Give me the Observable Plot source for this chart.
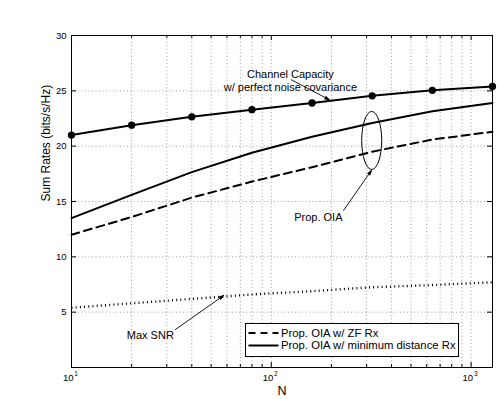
<!DOCTYPE html>
<html><head><meta charset="utf-8">
<script src="https://cdn.jsdelivr.net/npm/d3@7"></script>
<script src="https://cdn.jsdelivr.net/npm/@observablehq/plot@0.6"></script>
<style>
body{margin:0;background:#fff}
svg{font-family:"Liberation Sans",Arial,Helvetica,sans-serif}
</style>
</head><body><div id="chart"></div>
<script>
// ---- data ----
const N        = [10, 20, 40, 80, 160, 320, 640, 1280];
const capacity = [21.0, 21.9, 22.65, 23.3, 23.9, 24.55, 25.05, 25.4];
const minDist  = [13.5, 15.6, 17.65, 19.4, 20.85, 22.1, 23.15, 23.9];
const zfRx     = [12.0, 13.6, 15.35, 16.8, 18.1, 19.5, 20.6, 21.3];
const maxSnr   = [5.4, 5.8, 6.2, 6.6, 6.9, 7.25, 7.45, 7.7];
const yTicks   = [5, 10, 15, 20, 25, 30];
const xMajor   = [10, 100, 1000];
const xMinor   = [20, 30, 40, 50, 60, 70, 80, 90, 200, 300, 400, 500, 600, 700, 800, 900];
const xExp     = ["1", "2", "3"];
const legendLabels = ["Prop. OIA w/ ZF Rx", "Prop. OIA w/ minimum distance Rx"];
const capLabel = ["Channel Capacity", "w/ perfect noise covariance"];
const oiaLabel = "Prop. OIA";
const snrLabel = "Max SNR";

const series = (vals, name) => vals.map((v, i) => ({N: N[i], v, name}));
const capRows = series(capacity, "cap");
const minRows = series(minDist, "min");
const zfRows  = series(zfRx, "zf");
const snrRows = series(maxSnr, "snr");

// annotation anchors (data coordinates)
const notes = [
  {x: 124.7, y: 26.47, t: capLabel[0], a: "end"},
  {x: 124.7, y: 25.3,  t: capLabel[1], a: "end"},
  {x: 172,   y: 13.55, t: oiaLabel,    a: "middle"},
  {x: 24.8,  y: 2.89,  t: snrLabel,    a: "middle"}
];
const arrows = [
  {x1: 126,  y1: 26.0,  x2: 195, y2: 24.2},
  {x1: 230,  y1: 14.2,  x2: 317, y2: 17.8},
  {x1: 33.1, y1: 3.43,  x2: 57.7, y2: 6.5}
];

const W = 498, H = 399, mL = 71, mR = 6, mT = 35, mB = 32;
const pw = W - mL - mR, ph = H - mT - mB;
const gridStyle = {stroke: "#a0a0a0", strokeOpacity: 1, strokeDasharray: "1,2.5", strokeWidth: 1};

const chart = Plot.plot({
  width: W, height: H,
  marginLeft: mL, marginRight: mR, marginTop: mT, marginBottom: mB,
  style: {fontFamily: "Liberation Sans, Arial, sans-serif", fontSize: "9.5px", color: "black", background: "white", overflow: "visible"},
  x: {type: "log", domain: [10, 1280], axis: null},
  y: {domain: [0, 30]},
  marks: [
    Plot.gridX([...xMajor, ...xMinor], gridStyle),
    Plot.gridY(yTicks.filter(t => t < 30), gridStyle),
    // inward ticks
    Plot.tickX(xMajor, {x: d => d, insetTop: ph - 5, stroke: "black"}),
    Plot.tickX(xMajor, {x: d => d, insetBottom: ph - 5, stroke: "black"}),
    Plot.tickX(xMinor, {x: d => d, insetTop: ph - 3, stroke: "black"}),
    Plot.tickX(xMinor, {x: d => d, insetBottom: ph - 3, stroke: "black"}),
    Plot.tickY(yTicks, {y: d => d, insetRight: pw - 5, stroke: "black"}),
    Plot.tickY(yTicks, {y: d => d, insetLeft: pw - 5, stroke: "black"}),
    Plot.axisY(yTicks, {tickSize: 0, tickPadding: 5, fontSize: 9.5, label: null}),
    // x tick labels 10^k
    Plot.text(xMajor, {x: d => d, text: () => "10", frameAnchor: "bottom", textAnchor: "end", dx: 2, dy: 10.5, lineAnchor: "middle", fontSize: 9.5}),
    Plot.text(xMajor, {x: d => d, text: (d, i) => xExp[i], frameAnchor: "bottom", textAnchor: "start", dx: 2.8, dy: 6.5, lineAnchor: "middle", fontSize: 6.5}),
    // axis labels
    Plot.text(["N"], {frameAnchor: "bottom", dy: 23, lineAnchor: "middle", fontSize: 12.5}),
    Plot.text(["Sum Rates (bits/s/Hz)"], {frameAnchor: "left", dx: -25, rotate: -90, fontSize: 12, lineAnchor: "middle"}),
    // data
    Plot.line(snrRows, {x: "N", y: "v", stroke: "black", strokeWidth: 2.4, strokeDasharray: "1,3.2", strokeLinecap: "butt"}),
    Plot.line(zfRows, {x: "N", y: "v", stroke: "black", strokeWidth: 2, strokeDasharray: "8,5"}),
    Plot.line(minRows, {x: "N", y: "v", stroke: "black", strokeWidth: 2}),
    Plot.line(capRows, {x: "N", y: "v", stroke: "black", strokeWidth: 2}),
    Plot.dot(capRows, {x: "N", y: "v", r: 2.9, fill: "black", stroke: "black"}),
    // annotations
    Plot.text(notes, {x: "x", y: "y", text: "t", textAnchor: d => d.a, fontSize: 11, lineAnchor: "middle"}),
    Plot.arrow(arrows, {x1: "x1", y1: "y1", x2: "x2", y2: "y2", stroke: "black", fill: "black", strokeWidth: 0.9, headLength: 8, headAngle: 36}),
    Plot.frame({stroke: "black", strokeWidth: 1})
  ]
});

const sx = chart.scale("x"), sy = chart.scale("y");
const svg = d3.select(chart);
// ellipse around Prop. OIA curves at N=320
svg.append("ellipse")
  .attr("cx", sx.apply(320)).attr("cy", sy.apply(20.47))
  .attr("rx", 10).attr("ry", 29)
  .attr("fill", "none").attr("stroke", "black").attr("stroke-width", 1);

// legend
const lg = svg.append("g").attr("transform", "translate(245.5,323.5)").attr("text-anchor", "start");
lg.append("rect").attr("width", 213).attr("height", 33).attr("fill", "white").attr("stroke", "black").attr("stroke-width", 1);
const dashes = ["7,5", null];
legendLabels.forEach((lab, i) => {
  const y = 9.5 + i * 12.5;
  const ln = lg.append("line").attr("x1", 3).attr("x2", 33).attr("y1", y).attr("y2", y)
    .attr("stroke", "black").attr("stroke-width", 2);
  if (dashes[i]) ln.attr("stroke-dasharray", dashes[i]);
  lg.append("text").attr("x", 35.5).attr("y", y).attr("dy", "0.35em")
    .attr("text-anchor", "start")
    .attr("font-size", 11.3).attr("fill", "black").text(lab);
});

document.getElementById("chart").appendChild(chart);
</script>
</body></html>
